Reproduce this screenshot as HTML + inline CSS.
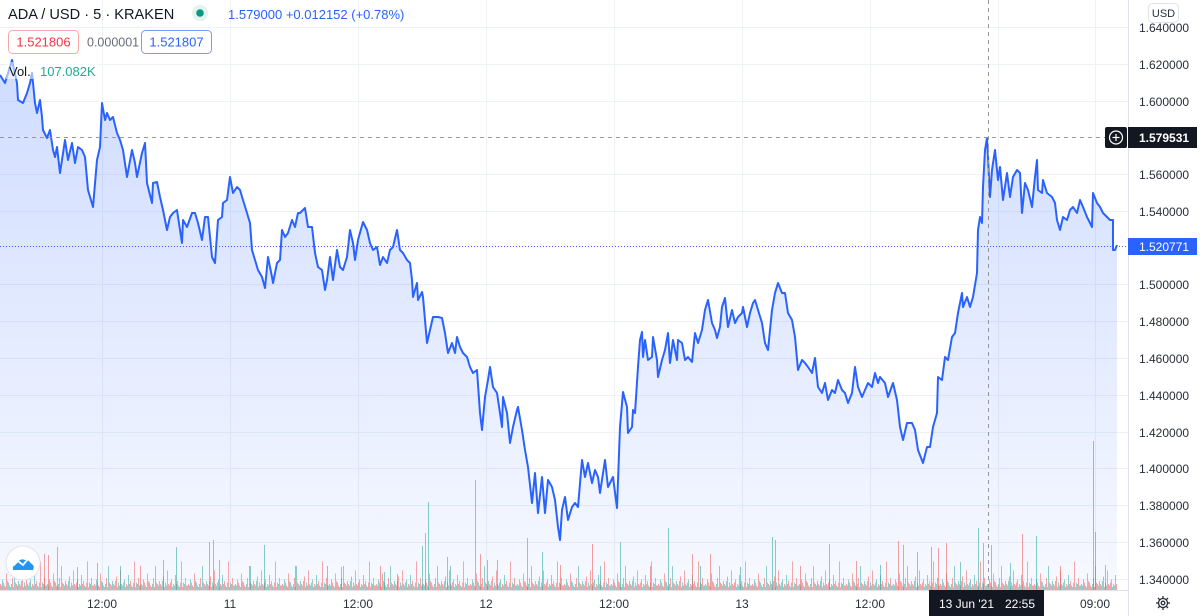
<!DOCTYPE html>
<html>
<head>
<meta charset="utf-8">
<style>
html,body{margin:0;padding:0;background:#fff;}
svg{display:block;font-family:"Liberation Sans",sans-serif;}
</style>
</head>
<body>
<svg width="1200" height="616" viewBox="0 0 1200 616" xmlns="http://www.w3.org/2000/svg">
<defs>
<linearGradient id="af" gradientUnits="userSpaceOnUse" x1="0" y1="60" x2="0" y2="590">
<stop offset="0" stop-color="#2962ff" stop-opacity="0.22"/>
<stop offset="1" stop-color="#2962ff" stop-opacity="0.04"/>
</linearGradient>
<pattern id="vp" patternUnits="userSpaceOnUse" x="0" y="550" width="47" height="40">
<g transform="translate(0,40) scale(1,1.5) translate(0,-40)">
<g fill="rgba(239,83,80,0.5)">
<rect x="0" y="36" width="1" height="4"/><rect x="4" y="37" width="1" height="3"/><rect x="6" y="29" width="1" height="11"/><rect x="12" y="32" width="1" height="8"/><rect x="16" y="36" width="1" height="4"/><rect x="20" y="37" width="1" height="3"/><rect x="22" y="31" width="1" height="9"/><rect x="26" y="27" width="1" height="13"/><rect x="32" y="36" width="1" height="4"/><rect x="36" y="34" width="1" height="6"/><rect x="40" y="21" width="1" height="19"/><rect x="44" y="32" width="1" height="8"/>
<rect x="3" y="35" width="1" height="5"/><rect x="7" y="34" width="1" height="6"/><rect x="9" y="37" width="1" height="3"/><rect x="13" y="38" width="1" height="2"/><rect x="15" y="35" width="1" height="5"/><rect x="19" y="36" width="1" height="4"/><rect x="23" y="38" width="1" height="2"/><rect x="27" y="36" width="1" height="4"/><rect x="29" y="35" width="1" height="5"/><rect x="35" y="36" width="1" height="4"/><rect x="39" y="35" width="1" height="5"/><rect x="41" y="38" width="1" height="2"/><rect x="45" y="37" width="1" height="3"/>
</g>
<g fill="rgba(38,166,154,0.5)">
<rect x="2" y="33" width="1" height="7"/><rect x="8" y="35" width="1" height="5"/><rect x="10" y="38" width="1" height="2"/><rect x="14" y="24" width="1" height="16"/><rect x="18" y="34" width="1" height="6"/><rect x="24" y="35" width="1" height="5"/><rect x="28" y="37" width="1" height="3"/><rect x="30" y="33" width="1" height="7"/><rect x="34" y="30" width="1" height="10"/><rect x="38" y="38" width="1" height="2"/><rect x="42" y="35" width="1" height="5"/><rect x="46" y="37" width="1" height="3"/>
<rect x="1" y="37" width="1" height="3"/><rect x="5" y="38" width="1" height="2"/><rect x="11" y="36" width="1" height="4"/><rect x="17" y="37" width="1" height="3"/><rect x="21" y="34" width="1" height="6"/><rect x="25" y="37" width="1" height="3"/><rect x="31" y="38" width="1" height="2"/><rect x="33" y="37" width="1" height="3"/><rect x="37" y="37" width="1" height="3"/><rect x="43" y="36" width="1" height="4"/>
</g>
</g>
</pattern>
</defs>

<!-- grid -->
<g stroke="#eef1f6" stroke-width="1">
<line x1="0" y1="27.5" x2="1128" y2="27.5"/>
<line x1="0" y1="64.5" x2="1128" y2="64.5"/>
<line x1="0" y1="101.5" x2="1128" y2="101.5"/>
<line x1="0" y1="174.5" x2="1128" y2="174.5"/>
<line x1="0" y1="211.5" x2="1128" y2="211.5"/>
<line x1="0" y1="284.5" x2="1128" y2="284.5"/>
<line x1="0" y1="321.5" x2="1128" y2="321.5"/>
<line x1="0" y1="358.5" x2="1128" y2="358.5"/>
<line x1="0" y1="395.5" x2="1128" y2="395.5"/>
<line x1="0" y1="432.5" x2="1128" y2="432.5"/>
<line x1="0" y1="468.5" x2="1128" y2="468.5"/>
<line x1="0" y1="505.5" x2="1128" y2="505.5"/>
<line x1="0" y1="542.5" x2="1128" y2="542.5"/>
<line x1="0" y1="579.5" x2="1128" y2="579.5"/>
<line x1="102.5" y1="0" x2="102.5" y2="590"/>
<line x1="230.5" y1="0" x2="230.5" y2="590"/>
<line x1="358.5" y1="0" x2="358.5" y2="590"/>
<line x1="486.5" y1="0" x2="486.5" y2="590"/>
<line x1="614.5" y1="0" x2="614.5" y2="590"/>
<line x1="742.5" y1="0" x2="742.5" y2="590"/>
<line x1="870.5" y1="0" x2="870.5" y2="590"/>
<line x1="998.5" y1="0" x2="998.5" y2="590"/>
<line x1="1095.5" y1="0" x2="1095.5" y2="590"/>
</g>

<!-- area -->
<path fill="url(#af)" d="M0,75 L5,83 12,60 17,83 18,100 23,103 27,93 30,83 32,73 33,83 35,103 37,113 40,100 42,117 43,130 47,138 50,130 53,150 55,157 57,147 60,173 62,160 65,140 68,160 72,143 75,163 78,147 82,150 85,157 88,190 93,207 97,160 100,147 102,103 105,120 107,113 110,120 113,117 117,133 120,140 123,150 127,177 132,150 135,163 137,177 142,153 145,143 147,183 152,203 153,183 157,182 160,197 163,210 167,230 170,217 173,213 177,210 180,230 182,243 183,220 187,227 192,213 195,213 198,223 202,240 205,217 208,217 212,257 215,263 218,220 222,217 223,203 227,200 230,177 233,193 237,187 240,190 243,200 247,213 250,223 252,250 255,260 258,270 262,277 265,288 268,257 272,277 273,283 277,263 280,260 282,230 285,237 288,233 292,220 295,227 298,213 300,213 305,208 308,227 312,227 315,253 318,267 322,270 325,290 327,280 330,257 333,280 337,250 340,267 343,270 347,257 350,230 353,243 355,260 358,240 363,222 367,230 370,243 373,250 377,247 380,265 383,257 387,263 390,250 393,247 397,230 400,250 403,253 407,260 410,263 412,280 413,297 417,283 418,300 422,292 423,297 427,343 430,330 433,317 438,317 442,318 445,333 448,353 452,343 455,353 457,337 460,347 463,353 467,357 470,367 473,373 477,370 480,413 482,430 485,397 488,380 490,367 493,387 497,393 500,413 502,427 503,397 507,413 510,443 513,427 517,410 518,407 522,430 525,450 528,467 532,503 535,473 538,513 542,477 545,513 548,480 552,487 555,500 558,527 560,540 562,510 565,497 568,520 572,507 575,503 578,507 582,460 585,477 588,463 592,483 595,470 598,477 600,493 605,460 608,487 613,477 617,508 620,427 623,392 627,407 628,433 632,427 633,410 635,413 638,367 640,340 642,332 643,357 645,340 648,360 652,357 653,337 657,360 658,377 662,360 665,350 668,333 670,363 673,340 677,360 678,340 682,343 685,360 688,357 692,362 695,333 698,343 702,330 705,310 708,300 712,323 715,330 717,338 720,327 722,307 725,298 728,327 732,310 735,323 738,317 742,313 743,307 747,327 750,313 753,303 755,300 758,310 762,323 765,343 768,350 772,310 775,293 778,283 782,293 785,293 788,313 792,320 795,337 798,370 802,360 805,363 808,367 812,373 815,358 818,387 822,393 825,383 828,400 832,390 835,393 838,380 842,390 845,393 848,403 852,393 855,367 858,387 862,397 865,390 868,383 872,387 875,373 878,383 880,377 885,383 888,397 893,383 897,400 900,427 903,440 907,423 912,423 915,430 918,450 923,463 927,447 930,447 933,427 937,413 938,377 942,380 945,357 948,360 952,337 955,333 958,313 962,293 963,307 967,297 970,307 973,297 977,273 978,230 980,217 982,223 983,187 985,150 987,138 988,157 990,197 992,170 995,150 998,180 1000,167 1003,200 1007,173 1010,197 1013,177 1017,170 1020,173 1022,213 1025,183 1028,190 1032,207 1035,177 1037,160 1038,190 1042,193 1043,180 1047,193 1052,197 1055,203 1057,220 1060,230 1063,217 1067,220 1070,210 1073,207 1077,213 1080,200 1083,207 1087,217 1092,227 1093,193 1097,203 1100,207 1103,213 1107,217 1110,220 1113,220 1113,250 1115,250 1117,245 L1117,590 L0,590 Z"/>

<!-- volume -->
<rect x="0" y="550" width="1117" height="40" fill="url(#vp)"/>
<g stroke-width="1">
<g stroke="rgba(239,83,80,0.55)">
<line x1="44.5" y1="554" x2="44.5" y2="590"/><line x1="48.5" y1="555" x2="48.5" y2="590"/><line x1="57.5" y1="547" x2="57.5" y2="590"/><line x1="163.5" y1="560" x2="163.5" y2="590"/><line x1="209.5" y1="542" x2="209.5" y2="590"/><line x1="213.5" y1="540" x2="213.5" y2="590"/><line x1="341.5" y1="567" x2="341.5" y2="590"/><line x1="397.5" y1="574" x2="397.5" y2="590"/><line x1="425.5" y1="533" x2="425.5" y2="590"/><line x1="447.5" y1="557" x2="447.5" y2="590"/><line x1="475.5" y1="480" x2="475.5" y2="590"/><line x1="480.5" y1="554" x2="480.5" y2="590"/><line x1="497.5" y1="560" x2="497.5" y2="590"/><line x1="527.5" y1="538" x2="527.5" y2="590"/><line x1="592.5" y1="544" x2="592.5" y2="590"/><line x1="692.5" y1="554" x2="692.5" y2="590"/><line x1="710.5" y1="554" x2="710.5" y2="590"/><line x1="856.5" y1="561" x2="856.5" y2="590"/><line x1="898.5" y1="541" x2="898.5" y2="590"/><line x1="917.5" y1="552" x2="917.5" y2="590"/><line x1="938.5" y1="548" x2="938.5" y2="590"/><line x1="946.5" y1="543" x2="946.5" y2="590"/><line x1="1022.5" y1="534" x2="1022.5" y2="590"/><line x1="1095.5" y1="532" x2="1095.5" y2="590"/>
<line x1="140.5" y1="566" x2="140.5" y2="590"/><line x1="295.5" y1="566" x2="295.5" y2="590"/><line x1="380.5" y1="566" x2="380.5" y2="590"/><line x1="560.5" y1="565" x2="560.5" y2="590"/><line x1="650.5" y1="566" x2="650.5" y2="590"/><line x1="800.5" y1="566" x2="800.5" y2="590"/><line x1="1060.5" y1="566" x2="1060.5" y2="590"/><line x1="1105.5" y1="565" x2="1105.5" y2="590"/>
</g>
<g stroke="rgba(38,166,154,0.55)">
<line x1="77.5" y1="567" x2="77.5" y2="590"/><line x1="97.5" y1="563" x2="97.5" y2="590"/><line x1="176.5" y1="547" x2="176.5" y2="590"/><line x1="219.5" y1="560" x2="219.5" y2="590"/><line x1="264.5" y1="545" x2="264.5" y2="590"/><line x1="327.5" y1="566" x2="327.5" y2="590"/><line x1="384.5" y1="572" x2="384.5" y2="590"/><line x1="422.5" y1="546" x2="422.5" y2="590"/><line x1="428.5" y1="502" x2="428.5" y2="590"/><line x1="487.5" y1="560" x2="487.5" y2="590"/><line x1="542.5" y1="552" x2="542.5" y2="590"/><line x1="620.5" y1="542" x2="620.5" y2="590"/><line x1="668.5" y1="528" x2="668.5" y2="590"/><line x1="772.5" y1="537" x2="772.5" y2="590"/><line x1="775.5" y1="540" x2="775.5" y2="590"/><line x1="829.5" y1="544" x2="829.5" y2="590"/><line x1="903.5" y1="545" x2="903.5" y2="590"/><line x1="931.5" y1="547" x2="931.5" y2="590"/><line x1="978.5" y1="528" x2="978.5" y2="590"/><line x1="983.5" y1="543" x2="983.5" y2="590"/><line x1="991.5" y1="545" x2="991.5" y2="590"/><line x1="1036.5" y1="536" x2="1036.5" y2="590"/><line x1="1093.5" y1="441" x2="1093.5" y2="590"/>
<line x1="120.5" y1="566" x2="120.5" y2="590"/><line x1="250.5" y1="566" x2="250.5" y2="590"/><line x1="450.5" y1="566" x2="450.5" y2="590"/><line x1="600.5" y1="566" x2="600.5" y2="590"/><line x1="700.5" y1="566" x2="700.5" y2="590"/><line x1="740.5" y1="567" x2="740.5" y2="590"/><line x1="880.5" y1="565" x2="880.5" y2="590"/><line x1="960.5" y1="562" x2="960.5" y2="590"/><line x1="1010.5" y1="563" x2="1010.5" y2="590"/>
</g>
</g>

<!-- line -->
<polyline fill="none" stroke="#2962ff" stroke-width="2" stroke-linejoin="round" points="0,75 5,83 12,60 17,83 18,100 23,103 27,93 30,83 32,73 33,83 35,103 37,113 40,100 42,117 43,130 47,138 50,130 53,150 55,157 57,147 60,173 62,160 65,140 68,160 72,143 75,163 78,147 82,150 85,157 88,190 93,207 97,160 100,147 102,103 105,120 107,113 110,120 113,117 117,133 120,140 123,150 127,177 132,150 135,163 137,177 142,153 145,143 147,183 152,203 153,183 157,182 160,197 163,210 167,230 170,217 173,213 177,210 180,230 182,243 183,220 187,227 192,213 195,213 198,223 202,240 205,217 208,217 212,257 215,263 218,220 222,217 223,203 227,200 230,177 233,193 237,187 240,190 243,200 247,213 250,223 252,250 255,260 258,270 262,277 265,288 268,257 272,277 273,283 277,263 280,260 282,230 285,237 288,233 292,220 295,227 298,213 300,213 305,208 308,227 312,227 315,253 318,267 322,270 325,290 327,280 330,257 333,280 337,250 340,267 343,270 347,257 350,230 353,243 355,260 358,240 363,222 367,230 370,243 373,250 377,247 380,265 383,257 387,263 390,250 393,247 397,230 400,250 403,253 407,260 410,263 412,280 413,297 417,283 418,300 422,292 423,297 427,343 430,330 433,317 438,317 442,318 445,333 448,353 452,343 455,353 457,337 460,347 463,353 467,357 470,367 473,373 477,370 480,413 482,430 485,397 488,380 490,367 493,387 497,393 500,413 502,427 503,397 507,413 510,443 513,427 517,410 518,407 522,430 525,450 528,467 532,503 535,473 538,513 542,477 545,513 548,480 552,487 555,500 558,527 560,540 562,510 565,497 568,520 572,507 575,503 578,507 582,460 585,477 588,463 592,483 595,470 598,477 600,493 605,460 608,487 613,477 617,508 620,427 623,392 627,407 628,433 632,427 633,410 635,413 638,367 640,340 642,332 643,357 645,340 648,360 652,357 653,337 657,360 658,377 662,360 665,350 668,333 670,363 673,340 677,360 678,340 682,343 685,360 688,357 692,362 695,333 698,343 702,330 705,310 708,300 712,323 715,330 717,338 720,327 722,307 725,298 728,327 732,310 735,323 738,317 742,313 743,307 747,327 750,313 753,303 755,300 758,310 762,323 765,343 768,350 772,310 775,293 778,283 782,293 785,293 788,313 792,320 795,337 798,370 802,360 805,363 808,367 812,373 815,358 818,387 822,393 825,383 828,400 832,390 835,393 838,380 842,390 845,393 848,403 852,393 855,367 858,387 862,397 865,390 868,383 872,387 875,373 878,383 880,377 885,383 888,397 893,383 897,400 900,427 903,440 907,423 912,423 915,430 918,450 923,463 927,447 930,447 933,427 937,413 938,377 942,380 945,357 948,360 952,337 955,333 958,313 962,293 963,307 967,297 970,307 973,297 977,273 978,230 980,217 982,223 983,187 985,150 987,138 988,157 990,197 992,170 995,150 998,180 1000,167 1003,200 1007,173 1010,197 1013,177 1017,170 1020,173 1022,213 1025,183 1028,190 1032,207 1035,177 1037,160 1038,190 1042,193 1043,180 1047,193 1052,197 1055,203 1057,220 1060,230 1063,217 1067,220 1070,210 1073,207 1077,213 1080,200 1083,207 1087,217 1092,227 1093,193 1097,203 1100,207 1103,213 1107,217 1110,220 1113,220 1113,250 1115,250 1117,245"/>

<!-- last price dotted line -->
<line x1="0" y1="246.5" x2="1128" y2="246.5" stroke="#2962ff" stroke-width="1" stroke-dasharray="1 2"/>
<!-- crosshair -->
<line x1="0" y1="137.5" x2="1105" y2="137.5" stroke="#9598a1" stroke-width="1" stroke-dasharray="4 4"/>
<line x1="988.5" y1="0" x2="988.5" y2="590" stroke="#9598a1" stroke-width="1" stroke-dasharray="4 4"/>

<!-- axes borders -->
<line x1="0" y1="590.5" x2="1128" y2="590.5" stroke="#e0e3eb" stroke-width="1"/>
<line x1="1128.5" y1="0" x2="1128.5" y2="616" stroke="#e0e3eb" stroke-width="1"/>

<!-- price axis labels -->
<g font-size="12" fill="#2a2e39">
<text x="1139" y="32">1.640000</text>
<text x="1139" y="69">1.620000</text>
<text x="1139" y="106">1.600000</text>
<text x="1139" y="179">1.560000</text>
<text x="1139" y="216">1.540000</text>
<text x="1139" y="289">1.500000</text>
<text x="1139" y="326">1.480000</text>
<text x="1139" y="363">1.460000</text>
<text x="1139" y="400">1.440000</text>
<text x="1139" y="437">1.420000</text>
<text x="1139" y="473">1.400000</text>
<text x="1139" y="510">1.380000</text>
<text x="1139" y="547">1.360000</text>
<text x="1139" y="584">1.340000</text>
</g>

<!-- USD button -->
<rect x="1148.5" y="3.5" width="30" height="19" rx="4" fill="#fff" stroke="#e0e3eb"/>
<text x="1163.5" y="17" font-size="11" fill="#2a2e39" text-anchor="middle">USD</text>

<!-- crosshair price label -->
<rect x="1105" y="127" width="22" height="21" rx="2" fill="#131722"/>
<circle cx="1116" cy="137.5" r="6.5" fill="none" stroke="#fff" stroke-width="1.2"/>
<line x1="1112.5" y1="137.5" x2="1119.5" y2="137.5" stroke="#fff" stroke-width="1.2"/>
<line x1="1116" y1="134" x2="1116" y2="141" stroke="#fff" stroke-width="1.2"/>
<rect x="1128" y="127" width="69" height="21" fill="#131722"/>
<text x="1139" y="142" font-size="12" font-weight="bold" fill="#fff">1.579531</text>

<!-- last value label -->
<rect x="1128" y="238" width="69" height="17" fill="#2962ff"/>
<text x="1139" y="251" font-size="12" fill="#fff">1.520771</text>

<!-- time axis labels -->
<g font-size="12" fill="#2a2e39" text-anchor="middle">
<text x="102" y="608">12:00</text>
<text x="230" y="608">11</text>
<text x="358" y="608">12:00</text>
<text x="486" y="608">12</text>
<text x="614" y="608">12:00</text>
<text x="742" y="608">13</text>
<text x="870" y="608">12:00</text>
<text x="1095" y="608">09:00</text>
</g>
<rect x="929" y="590" width="115" height="26" fill="#131722"/>
<text x="939" y="608" font-size="12" fill="#fff">13 Jun '21</text>
<text x="1005" y="608" font-size="12" fill="#fff">22:55</text>

<!-- gear -->
<g transform="translate(1163,603)" stroke="#2a2e39" stroke-width="1.3" fill="none">
<circle r="4.5"/>
<circle r="1.8"/>
<line x1="0" y1="-4.5" x2="0" y2="-7"/><line x1="0" y1="4.5" x2="0" y2="7"/>
<line x1="-4.5" y1="0" x2="-7" y2="0"/><line x1="4.5" y1="0" x2="7" y2="0"/>
<line x1="3.2" y1="3.2" x2="5" y2="5"/><line x1="-3.2" y1="-3.2" x2="-5" y2="-5"/>
<line x1="3.2" y1="-3.2" x2="5" y2="-5"/><line x1="-3.2" y1="3.2" x2="-5" y2="5"/>
</g>

<!-- logo -->
<circle cx="23" cy="563" r="17" fill="#fff" stroke="#e0e3eb"/>
<path d="M13,570 Q12,564 17,563 Q20,558 25,560 Q30,559 32,564 Q35,566 33,570 Z" fill="#2196f3"/>
<polyline points="13,566 18,561 23,565 28,559 33,564" fill="none" stroke="#fff" stroke-width="1.8" stroke-linejoin="round"/>

<!-- legend -->
<text x="8" y="19" font-size="14.6" fill="#131722">ADA / USD · 5 · KRAKEN</text>
<circle cx="200" cy="13" r="8" fill="#e3f3ef"/>
<circle cx="200" cy="13" r="3.8" fill="#089981"/>
<text x="228" y="19" font-size="13" fill="#2962ff">1.579000 +0.012152 (+0.78%)</text>

<rect x="8.5" y="30.5" width="70" height="23" rx="4" fill="#fff" stroke="#f7a9a7"/>
<text x="43.5" y="46.5" font-size="13" fill="#f23645" text-anchor="middle">1.521806</text>
<text x="87" y="46.5" font-size="12.5" fill="#6a6d78">0.000001</text>
<rect x="141.5" y="30.5" width="70" height="23" rx="4" fill="#fff" stroke="#7a9bf5"/>
<text x="176.5" y="46.5" font-size="13" fill="#2962ff" text-anchor="middle">1.521807</text>

<rect x="6" y="62" width="92" height="17" fill="rgba(255,255,255,0.55)"/>
<text x="9" y="76" font-size="13" fill="#131722">Vol.</text>
<text x="40" y="76" font-size="13" fill="#22ab94">107.082K</text>
</svg>
</body>
</html>
